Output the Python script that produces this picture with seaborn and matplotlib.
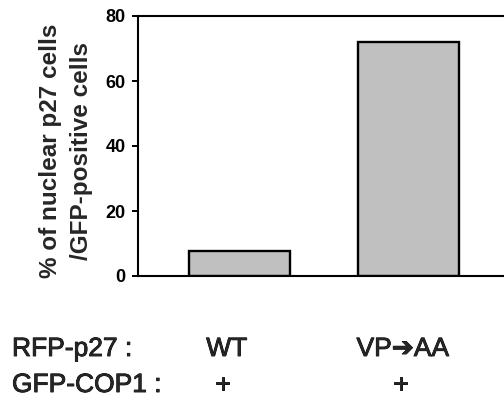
import matplotlib
matplotlib.use("Agg")
import matplotlib.pyplot as plt
import matplotlib.transforms as mtransforms
import matplotlib.patheffects as pe
import seaborn as sns
import pandas as pd

# Data
constructs = ["WT", "VP\u2794AA"]
cop1 = ["+", "+"]
values = [7.6, 72.0]
yticks = [0, 20, 40, 60, 80]
ylabel = "% of nuclear p27 cells\n/GFP-positive cells"
row_labels = ["RFP-p27 :", "GFP-COP1 :"]

sns.set_style("white")
plt.rcParams["font.family"] = ["Liberation Sans", "DejaVu Sans"]

W, H = 504, 400
fig = plt.figure(figsize=(W / 100, H / 100), dpi=100)
ax = fig.add_axes([138 / W, (H - 276) / H, 372 / W, 260 / H])

df = pd.DataFrame({"construct": constructs, "value": values})
sns.barplot(data=df, x="construct", y="value", color="#C0C0C0",
            edgecolor="black", linewidth=1.7, width=0.6, saturation=1,
            ax=ax)
ax.set_xlim(-0.6, 1.6)
ax.set_ylim(0, 80)
ax.set_yticks(yticks)
ax.set_yticklabels([str(t) for t in yticks], fontsize=13, fontweight="bold")
ax.set_xticks([])
ax.set_xlabel("")
ax.tick_params(axis="y", direction="out", length=4, width=1.4, pad=5,
               left=True, colors="black")
for s in ["top", "left", "bottom", "right"]:
    ax.spines[s].set_visible(True)
    ax.spines[s].set_linewidth(1.5)
    ax.spines[s].set_color("black")

ax.set_ylabel(ylabel, fontsize=17.5, fontweight="bold", linespacing=1.4,
              multialignment="center")
ax.yaxis.label.set_va("center")
ax.yaxis.set_label_coords((66 - 138) / 372, (276 - 151) / 260)

# Bottom annotations
trans = mtransforms.blended_transform_factory(ax.transData, fig.transFigure)
fs = 19
thick = [pe.withStroke(linewidth=0.6, foreground="black")]
fig.text(12 / W, 1 - 356 / H, row_labels[0], fontsize=fs, ha="left",
         va="baseline", path_effects=thick)
fig.text(12 / W, 1 - 392 / H, row_labels[1], fontsize=fs, ha="left",
         va="baseline", path_effects=thick)
c_off = [-0.075, -0.034]
p_off = [-0.10, -0.046]
for i, (c, p) in enumerate(zip(constructs, cop1)):
    ax.text(i + c_off[i], 1 - 356 / H, c, transform=trans, fontsize=fs,
            ha="center", va="baseline", clip_on=False, path_effects=thick)
    ax.text(i + p_off[i], 1 - 392 / H, p, transform=trans, fontsize=fs,
            ha="center", va="baseline", clip_on=False, path_effects=thick)

fig.savefig("out.png", dpi=100)
